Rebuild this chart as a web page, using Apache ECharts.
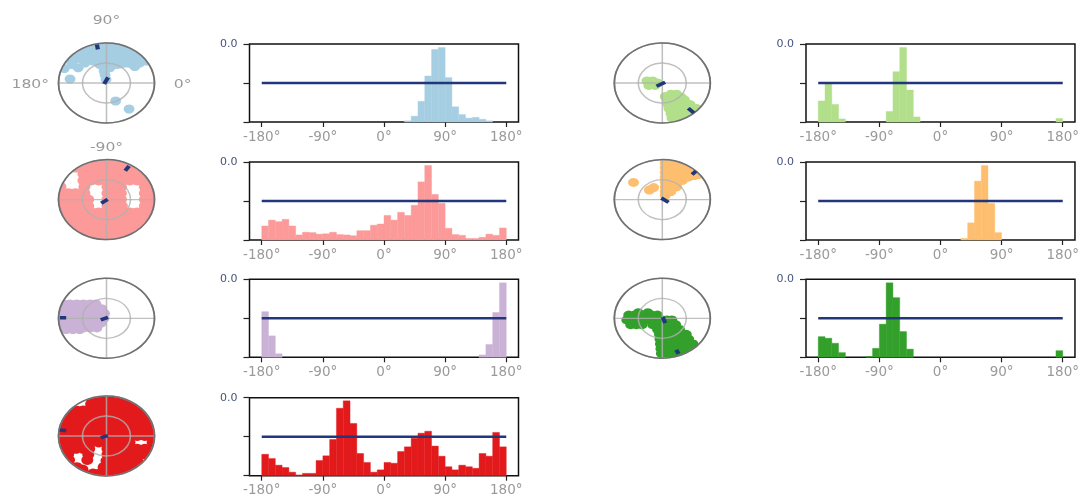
<!DOCTYPE html>
<html>
<head>
<meta charset="utf-8">
<script src="https://cdn.jsdelivr.net/npm/echarts@6.0.0/dist/echarts.min.js"></script>
<style>
  html, body { margin: 0; padding: 0; background: #fff; }
  #hist { position: absolute; left: 0; top: 0; width: 1082px; height: 501px; }
  /* dials are drawn on a narrower canvas and widened, giving the oval look */
  #dial { position: absolute; left: 0; top: 0; width: 901.667px; height: 501px;
          transform: scaleX(1.2); transform-origin: 0 0; pointer-events: none; }
</style>
</head>
<body>
<div id="hist"></div>
<div id="dial"></div>
<script>
// ---------- shared axis settings ----------
const binStart = -180;
const binWidth = 10;
const xTicks = [-180, -90, 0, 90, 180];
const xTickLabels = ['-180°', '-90°', '0°', '90°', '180°'];
const yTicks = [0, 1, 2];
const yTickLabels = ['', '', '0.0'];
const uniformLevel = 1;
const dialAngles = [0, 90, 180, 270];
const dialLabels = ['0°', '90°', '180°', '-90°'];

// ---------- histogram heights, one per 10° bin from -180° to 180° ----------
const histBlue = [0,0,0,0,0,0,0,0,0,0,0,0,0,0,0,0,0,0,0,0,0,0.03,0.15,0.53,1.18,1.86,1.91,1.14,0.39,0.19,0.10,0.12,0.07,0.03,0,0];
const histPink = [0.36,0.51,0.47,0.53,0.36,0.13,0.20,0.19,0.15,0.16,0.20,0.14,0.13,0.11,0.24,0.24,0.38,0.41,0.63,0.51,0.71,0.63,0.89,1.49,1.91,1.17,0.94,0.30,0.14,0.12,0.04,0.04,0.07,0.15,0.12,0.31];
const histPurple = [1.17,0.55,0.09,0,0,0,0,0,0,0,0,0,0,0,0,0,0,0,0,0,0,0,0,0,0,0,0,0,0,0,0,0,0.06,0.33,1.15,1.91];
const histRed = [0.55,0.44,0.27,0.21,0.09,0.02,0.06,0.06,0.39,0.51,0.93,1.73,1.92,1.34,0.57,0.34,0.09,0.15,0.34,0.32,0.62,0.74,0.96,1.09,1.14,0.76,0.50,0.23,0.15,0.27,0.23,0.19,0.57,0.50,1.11,0.74];
const histLime = [0.54,1.01,0.45,0.08,0,0,0,0,0,0,0.27,1.29,1.91,0.82,0.13,0,0,0,0,0,0,0,0,0,0,0,0,0,0,0,0,0,0,0,0,0.09];
const histOrange = [0,0,0,0,0,0,0,0,0,0,0,0,0,0,0,0,0,0,0,0,0,0.04,0.44,1.51,1.91,0.94,0.19,0,0,0,0,0,0,0,0,0];
const histGreen = [0.53,0.49,0.36,0.12,0,0,0,0.02,0.23,0.85,1.91,1.53,0.66,0.21,0,0,0,0,0,0,0,0,0,0,0,0,0,0,0,0,0,0,0,0,0,0.17];

// ---------- dial observations as unit-disk components, grouped [y, [x...]] ----------
const cloudBlue = [
  [0.95, [-0.3,-0.15,0,0.15,0.3]],
  [0.84, [-0.5,-0.36,-0.22,-0.08,0.06,0.2,0.34,0.48]],
  [0.72, [-0.68,-0.54,-0.4,-0.26,-0.12,0.02,0.16,0.3,0.44,0.58,0.68]],
  [0.6, [-0.8,-0.66,-0.52,-0.38,-0.24,-0.1,0.04,0.18,0.32,0.46,0.6,0.74]],
  [0.55, [-0.28,0.83]],
  [0.5, [-0.45,0.41,0.69]],
  [0.48, [-0.02,0.3,0.52]],
  [0.46, [-0.72,-0.14,0.21]],
  [0.41, [0.59]],
  [0.38, [-0.59,0.07]],
  [0.36, [-0.88]],
  [0.3, [-0.05]],
  [0.2, [-0.03]],
  [0.1, [-0.76]],
  [0.09, [-0.01]],
  [-0.45, [0.19]],
  [-0.65, [0.47]]
];
const cloudPink = [
  [0.96, [-0.32,-0.16,0,0.16,0.32]],
  [0.8, [-0.64,-0.48,-0.32,-0.16,0,0.16,0.32,0.48,0.64]],
  [0.64, [-0.48,-0.32,-0.16,0,0.16,0.32,0.48,0.64,0.8]],
  [0.48, [-0.48,-0.32,-0.16,0,0.16,0.32,0.48,0.64,0.8]],
  [0.32, [-0.96,-0.46,0.02,0.16,0.3,0.8,0.96]],
  [0.16, [-0.96,-0.8,-0.64,-0.46,0.02,0.16,0.3,0.8,0.96]],
  [0, [-0.96,-0.8,-0.64,-0.48,-0.38,0.02,0.16,0.3,0.8,0.96]],
  [-0.16, [-0.96,-0.8,-0.64,-0.48,-0.38,0.02,0.16,0.32,0.8,0.96]],
  [-0.32, [-0.96,-0.8,-0.64,-0.48,-0.32,-0.16,0,0.16,0.32,0.48,0.64,0.8,0.96]],
  [-0.48, [-0.8,-0.64,-0.48,-0.32,-0.16,0,0.16,0.32,0.48,0.64,0.8]],
  [-0.64, [-0.8,-0.64,-0.48,-0.32,-0.16,0,0.16,0.32,0.48,0.64,0.8]],
  [-0.8, [-0.64,-0.48,-0.32,-0.16,0,0.16,0.32,0.48,0.64]],
  [-0.96, [-0.32,-0.16,0,0.16,0.32]]
];
const cloudPurple = [
  [0.36, [-0.9,-0.76,-0.62,-0.48,-0.34,-0.22]],
  [0.24, [-0.92,-0.78,-0.64,-0.5,-0.36,-0.22,-0.1]],
  [0.12, [-0.95,-0.81,-0.67,-0.53,-0.39,-0.25,-0.11,-0.04]],
  [0, [-0.95,-0.81,-0.67,-0.53,-0.39,-0.25,-0.11,-0.05]],
  [-0.12, [-0.95,-0.81,-0.67,-0.53,-0.39,-0.25,-0.11]],
  [-0.24, [-0.9,-0.76,-0.62,-0.48,-0.34,-0.2]],
  [-0.28, [-0.84,-0.7,-0.56]]
];
const cloudRed = [
  [0.96, [-0.32,-0.16,0,0.16,0.32]],
  [0.8, [-0.32,-0.16,0,0.16,0.32,0.48,0.64]],
  [0.64, [-0.8,-0.64,-0.48,-0.32,-0.16,0,0.16,0.32,0.48,0.64,0.8]],
  [0.48, [-0.92,-0.8,-0.64,-0.48,-0.32,-0.16,0,0.16,0.32,0.48,0.64,0.8,0.92]],
  [0.32, [-0.96,-0.8,-0.64,-0.48,-0.32,-0.16,0,0.16,0.32,0.48,0.64,0.8,0.96]],
  [0.16, [-0.96,-0.8,-0.64,-0.48,-0.32,-0.16,0,0.16,0.32,0.48,0.64,0.8,0.96]],
  [0, [-0.96,-0.8,-0.64,-0.48,-0.32,-0.16,0,0.16,0.32,0.48,0.64,0.8,0.96]],
  [-0.16, [-0.96,-0.8,-0.64,-0.48,-0.32,-0.16,0,0.16,0.32,0.48,0.96]],
  [-0.32, [-0.96,-0.8,-0.64,-0.48,-0.36,0.02,0.16,0.32,0.48,0.64,0.8,0.96]],
  [-0.46, [-0.9,-0.8,-0.38,0.02,0.16,0.32,0.48,0.64,0.8]],
  [-0.6, [-0.78,-0.4]],
  [-0.62, [0,0.16,0.32,0.48,0.64]],
  [-0.78, [-0.62,-0.06,0.08,0.24,0.4,0.56]],
  [-0.84, [-0.5]],
  [-0.94, [-0.28,-0.14,0,0.14,0.28]]
];
const cloudLime = [
  [0.05, [-0.32,-0.2]],
  [0, [-0.1]],
  [-0.06, [-0.28,-0.15]],
  [-0.28, [0.18,0.3]],
  [-0.34, [0.06]],
  [-0.36, [0.4]],
  [-0.42, [0.1,0.22,0.34,0.46]],
  [-0.54, [0.12,0.24,0.36,0.48,0.58]],
  [-0.64, [0.14,0.26,0.38,0.5,0.62,0.72]],
  [-0.76, [0.18,0.3,0.42,0.54,0.62]],
  [-0.88, [0.2,0.32,0.44]]
];
const cloudOrange = [
  [0.92, [0.06,0.18]], [0.88, [0.3]], [0.84, [0.42]], [0.8, [0.06,0.18]],
  [0.78, [0.54]], [0.76, [0.3]], [0.72, [0.42]], [0.7, [0.66]],
  [0.68, [0.06,0.18]], [0.66, [0.54]], [0.64, [0.3]], [0.62, [0.74]],
  [0.6, [0.42,0.66]], [0.56, [0.06,0.18,0.54]], [0.52, [0.3]], [0.48, [0.42]],
  [0.44, [0.06,0.18]], [0.4, [0.3]], [0.32, [0.06,0.18,0.3]], [0.2, [0.06,0.18]],
  [0.1, [0.06]], [0.43, [-0.6]], [0.24, [-0.27]], [0.3, [-0.18]]
];
const cloudGreen = [
  [0.14, [-0.5,-0.3]],
  [0.08, [-0.7,-0.58,-0.46,-0.34,-0.22,-0.1]],
  [-0.04, [-0.74,-0.62,-0.5,-0.38,-0.26,-0.14,0,0.1,0.2]],
  [-0.16, [-0.66,-0.54,-0.42,-0.2,-0.08,0.04,0.16,0.28]],
  [-0.28, [-0.1,0.02,0.14,0.26,0.36]],
  [-0.4, [-0.06,0.06,0.18,0.3,0.42,0.5]],
  [-0.52, [-0.05,0.07,0.19,0.31,0.43,0.55]],
  [-0.64, [-0.04,0.08,0.2,0.32,0.44,0.56,0.64]],
  [-0.76, [-0.03,0.09,0.21,0.33,0.45,0.55]],
  [-0.88, [-0.02,0.1,0.22,0.34]]
];

// ---------- mean-direction ticks: [[x0, y0], [x1, y1]] pairs (inner, outer) ----------
const marksBlue = [[[-0.05,-0.025],[0.033,0.14]], [[-0.18,0.84],[-0.2,0.96]]];
const marksPink = [[[-0.11,-0.09],[0.024,0.005]], [[0.39,0.72],[0.47,0.84]]];
const marksPurple = [[[-0.12,-0.04],[0.03,0.025]], [[-0.97,0.015],[-0.84,0.015]]];
const marksRed = [[[-0.12,-0.04],[0.03,0.01]], [[-0.97,0.15],[-0.84,0.13]]];
const marksLime = [[[-0.12,-0.08],[0.06,0.02]], [[0.54,-0.63],[0.68,-0.77]]];
const marksOrange = [[[-0.02,0.04],[0.13,-0.07]], [[0.62,0.63],[0.71,0.72]]];
const marksGreen = [[[0.01,0.03],[0.06,-0.12]], [[0.29,-0.79],[0.34,-0.89]]];

// ---------- layout ----------
const colHistLeft = [249.5, 806];
const colDialX = [106.5, 662.3];
const rowTop = [44, 162, 279.3, 397.7];
const rowDialY = [83, 199.6, 318.3, 436];
const histW = 269, histH = 78;
const dialR = 40, dialStretch = 1.2;

const panels = [
  { color: '#a6cee3', hist: histBlue,   cloud: cloudBlue,   marks: marksBlue,   col: 0, row: 0, size: 9,  labels: true },
  { color: '#fb9a99', hist: histPink,   cloud: cloudPink,   marks: marksPink,   col: 0, row: 1, size: 10 },
  { color: '#cab2d6', hist: histPurple, cloud: cloudPurple, marks: marksPurple, col: 0, row: 2, size: 9 },
  { color: '#e31a1c', hist: histRed,    cloud: cloudRed,    marks: marksRed,    col: 0, row: 3, size: 10 },
  { color: '#b2df8a', hist: histLime,   cloud: cloudLime,   marks: marksLime,   col: 1, row: 0, size: 9 },
  { color: '#fdbf6f', hist: histOrange, cloud: cloudOrange, marks: marksOrange, col: 1, row: 1, size: 9 },
  { color: '#33a02c', hist: histGreen,  cloud: cloudGreen,  marks: marksGreen,  col: 1, row: 2, size: 9 }
];

const NAVY = '#22367c';
const FONT = '"DejaVu Sans", "Liberation Sans", sans-serif';

// ---------- histograms ----------
const histChart = echarts.init(document.getElementById('hist'));
const hOpt = { animation: false, grid: [], xAxis: [], yAxis: [], series: [] };
panels.forEach((p, i) => {
  hOpt.grid.push({ left: colHistLeft[p.col], top: rowTop[p.row], width: histW, height: histH,
                   show: true, borderColor: '#111', borderWidth: 1.5, backgroundColor: 'transparent' });
  hOpt.xAxis.push({
    gridIndex: i, type: 'value', min: -198, max: 198,
    axisLine: { show: false, onZero: false }, splitLine: { show: false },
    axisTick: { show: true, customValues: xTicks, length: 5, lineStyle: { color: '#222', width: 1.2 } },
    axisLabel: { customValues: xTicks, formatter: v => xTickLabels[xTicks.indexOf(v)],
                 color: '#9a9a9a', fontSize: 13.5, fontFamily: FONT, margin: 8 }
  });
  hOpt.yAxis.push({
    gridIndex: i, type: 'value', min: 0, max: 2, interval: 1,
    axisLine: { show: false, onZero: false }, splitLine: { show: false },
    axisTick: { show: true, length: 6, lineStyle: { color: '#222', width: 1.2 } },
    axisLabel: { formatter: v => yTickLabels[yTicks.indexOf(v)] || '',
                 color: '#46547a', fontSize: 11, fontFamily: FONT, margin: 12 }
  });
  // empty bins carry no bar
  const bins = p.hist.map((h, k) => [binStart + k * binWidth, binStart + (k + 1) * binWidth, h])
                     .filter(d => d[2] > 0);
  hOpt.series.push({
    type: 'custom', xAxisIndex: i, yAxisIndex: i, silent: true, z: 2,
    data: bins, encode: { x: [0, 1], y: 2 },
    renderItem: (params, api) => {
      const a = api.coord([api.value(0), 0]);
      const b = api.coord([api.value(1), api.value(2)]);
      return { type: 'rect', shape: { x: a[0], y: b[1], width: b[0] - a[0], height: a[1] - b[1] },
               style: { fill: p.color, stroke: p.color, lineWidth: 0.4 } };
    }
  });
  hOpt.series.push({
    type: 'line', xAxisIndex: i, yAxisIndex: i, silent: true, z: 5, symbol: 'none',
    data: [[-180, uniformLevel], [180, uniformLevel]],
    lineStyle: { color: NAVY, width: 2.5 }
  });
});
histChart.setOption(hOpt);

// ---------- dials ----------
const toPolar = ([x, y]) => {
  let a = Math.atan2(y, x) * 180 / Math.PI;
  if (a < 0) a += 360;
  return [Math.hypot(x, y), a];
};
const flatten = rows => rows.flatMap(([y, xs]) => xs.map(x => [x, y]));

const dialChart = echarts.init(document.getElementById('dial'), null, { renderer: 'svg' });
const dOpt = { animation: false, polar: [], angleAxis: [], radiusAxis: [], series: [], graphic: [] };
panels.forEach((p, i) => {
  const cx = colDialX[p.col] / dialStretch, cy = rowDialY[p.row];
  dOpt.polar.push({ center: [cx, cy], radius: dialR });
  dOpt.angleAxis.push({
    polarIndex: i, type: 'value', min: 0, max: 360, interval: 90, startAngle: 0, clockwise: false,
    axisLine: { lineStyle: { color: '#707070', width: 1.5 } },
    axisTick: { show: false }, axisLabel: { show: false },
    splitLine: { lineStyle: { color: 'rgba(176,176,176,0.8)', width: 1.3 } }, z: 6
  });
  dOpt.radiusAxis.push({
    polarIndex: i, type: 'value', min: 0, max: 1, interval: 0.5,
    axisLine: { show: false }, axisTick: { show: false }, axisLabel: { show: false },
    splitLine: { lineStyle: { color: 'rgba(176,176,176,0.8)', width: 1.3 } }, z: 5
  });
  dOpt.series.push({
    type: 'scatter', coordinateSystem: 'polar', polarIndex: i, silent: true, clip: false, z: 2,
    symbolSize: p.size, itemStyle: { color: p.color, opacity: 1 },
    data: flatten(p.cloud).map(toPolar)
  });
  p.marks.forEach(seg => {
    dOpt.series.push({
      type: 'line', coordinateSystem: 'polar', polarIndex: i, silent: true, z: 8, symbol: 'none',
      data: seg.map(toPolar), lineStyle: { color: NAVY, width: 3.5 }
    });
  });
  // white band that trims dots spilling past the rim
  dOpt.graphic.push({ type: 'ring', silent: true, z: 4,
                      shape: { cx: cx, cy: cy, r: dialR + 7, r0: dialR }, style: { fill: '#fff' } });
  if (p.labels) {
    dialAngles.forEach((ang, k) => {
      const rad = ang * Math.PI / 180, off = 63.5;
      dOpt.graphic.push({
        type: 'text', silent: true, z: 10,
        x: cx + Math.cos(rad) * off, y: cy - Math.sin(rad) * off,
        style: { text: dialLabels[k], fill: '#9a9a9a', font: '13px ' + FONT,
                 align: 'center', verticalAlign: 'middle',
                 textAlign: 'center', textVerticalAlign: 'middle' }
      });
    });
  }
});
dialChart.setOption(dOpt);
</script>
</body>
</html>
